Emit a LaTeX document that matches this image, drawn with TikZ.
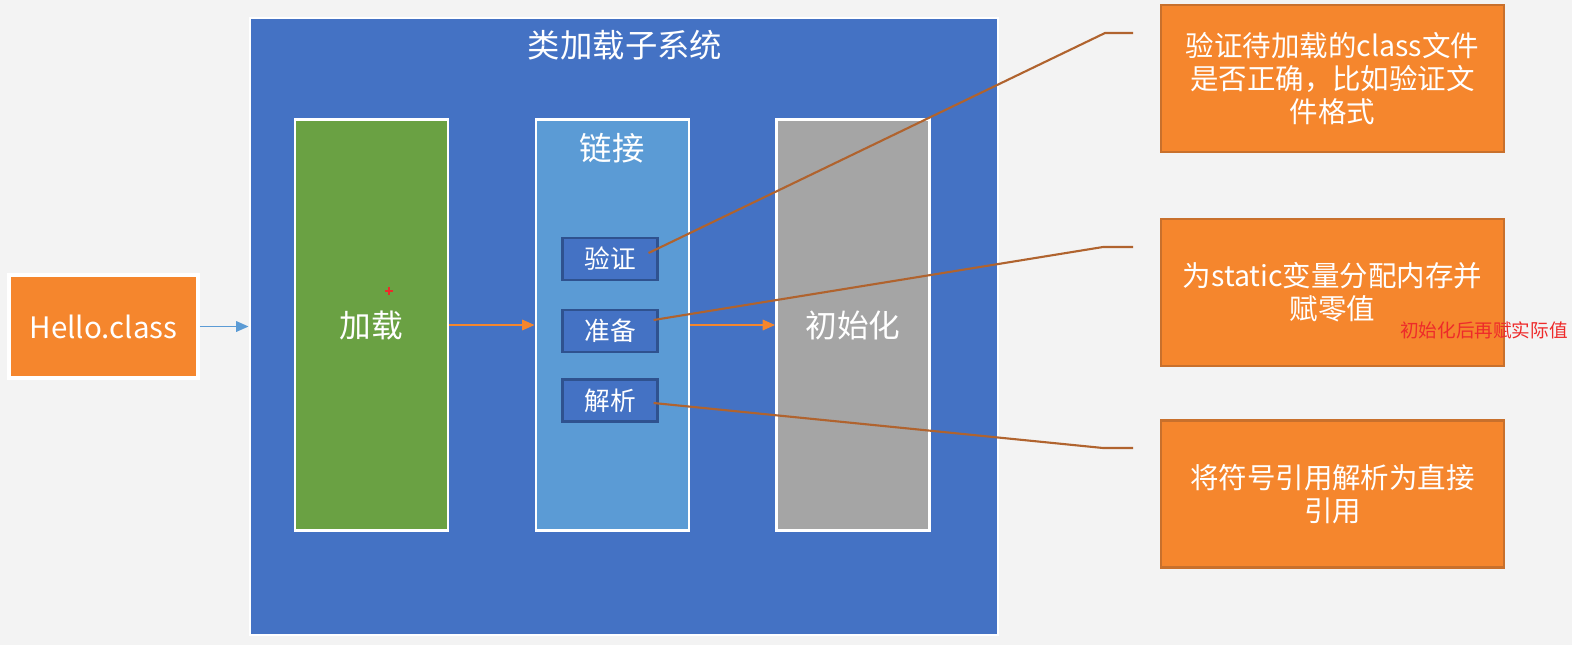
\documentclass[tikz,border=0pt]{standalone}
\usepackage{fontspec}
\setmainfont{Noto Sans CJK SC}
\usetikzlibrary{arrows.meta}

\definecolor{bggray}{HTML}{F3F3F3}
\definecolor{notefill}{HTML}{F5862D}
\definecolor{noteedge}{HTML}{C8702C}
\definecolor{sysblue}{HTML}{4472C4}
\definecolor{loadgreen}{HTML}{6AA143}
\definecolor{linkblue}{HTML}{5B9BD5}
\definecolor{initgray}{HTML}{A5A5A5}
\definecolor{subedge}{HTML}{2F528F}
\definecolor{flowblue}{HTML}{5B9BD5}
\definecolor{calloutbrown}{HTML}{B0632E}
\definecolor{remarkred}{HTML}{EE2A2A}

\tikzset{
  sysbox/.style={draw=white, fill=sysblue, line width=0.7pt, inner sep=0pt},
  filebox/.style={draw=white, fill=notefill, line width=1pt, inner sep=0pt,
    minimum width=1.89cm, minimum height=1.03cm, text=white,
    font=\fontsize{8.4}{10}\selectfont},
  phase/.style={draw=white, line width=0.8pt, inner sep=0pt,
    minimum width=1.53cm, minimum height=4.1cm, text=white,
    font=\fontsize{9}{11}\selectfont},
  bigtext/.style={text=white, inner sep=0pt, font=\fontsize{9.2}{11}\selectfont},
  substep/.style={draw=subedge, fill=sysblue, line width=0.6pt, inner sep=0pt,
    minimum width=0.95cm, minimum height=0.42cm, text=white,
    font=\fontsize{7.3}{9}\selectfont},
  note/.style={draw=noteedge, fill=notefill, line width=0.6pt, inner sep=0pt,
    minimum width=3.43cm, minimum height=1.47cm, text=white, align=center,
    font=\fontsize{8.1}{9.4}\selectfont},
  remark/.style={text=remarkred, inner sep=0pt, font=\fontsize{5.3}{6.5}\selectfont},
  callout/.style={draw=calloutbrown, line width=0.6pt},
  flow/.style={->, line width=0.4pt}
}

\begin{document}
\begin{tikzpicture}[x=0.01cm, y=-0.01cm, >={Triangle[length=3.5pt,width=3pt]}]
% background
\fill[bggray] (0,0) rectangle (1572,645);
\useasboundingbox (0,0) rectangle (1572,645);

% class loader subsystem
\node[sysbox, minimum width=7.48cm, minimum height=6.17cm] (sys) at (624,326.5) {};
\node[bigtext] (title) at (625,45) {类加载子系统};

% input file
\node[filebox] (hello) at (103.5,326.5) {Hello.class};

% three phases
\node[phase, fill=loadgreen] (load) at (371.5,325) {加载};
\node[phase, fill=linkblue] (link) at (612.5,325) {};
\node[bigtext] (linktitle) at (612,148) {链接};
\node[phase, fill=initgray] (init) at (853,325) {初始化};

% steps of linking
\node[substep] (verify) at (610,259) {验证};
\node[substep] (prepare) at (610,331) {准备};
\node[substep] (resolve) at (610,400.5) {解析};

% red cursor mark
\draw[remarkred, line width=0.5pt] (385,291) -- (393,291) (389,287) -- (389,295);

% flow arrows
\draw[flow, flowblue] (hello) -- (sys.west |- hello);
\draw[flow, notefill] (load.east) -- (link.west);
\draw[flow, notefill] (link.east) -- (init.west);

% notes
\node[note] (note1) at (1332.5,78.5) {验证待加载的class文件\\是否正确，比如验证文\\件格式};
\node[note] (note2) at (1332.5,292.5) {为static变量分配内存并\\赋零值};
\node[note] (note3) at (1332.5,494) {将符号引用解析为直接\\引用};
\node[remark] (remark) at (1484,330) {初始化后再赋实际值};

% callout lines
\coordinate (bend1) at (1105,33);
\coordinate (tip1) at (1133,33);
\coordinate (bend2) at (1103,247);
\coordinate (tip2) at (1133,247);
\coordinate (bend3) at (1103,448);
\coordinate (tip3) at (1133,448);
\draw[callout] ([xshift=-0.1cm,yshift=0.06cm]verify.east) -- (bend1) -- (tip1);
\draw[callout] ([xshift=-0.05cm,yshift=0.11cm]prepare.east) -- (bend2) -- (tip2);
\draw[callout] ([xshift=-0.05cm,yshift=-0.025cm]resolve.east) -- (bend3) -- (tip3);
\end{tikzpicture}
\end{document}
